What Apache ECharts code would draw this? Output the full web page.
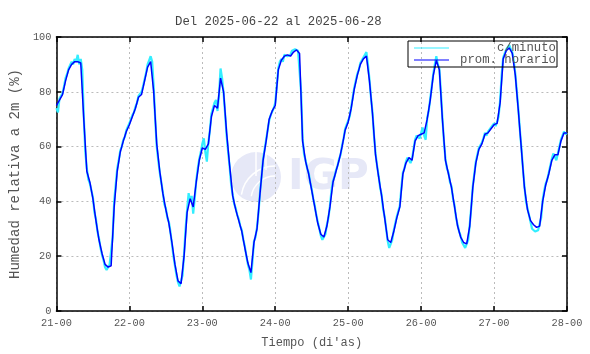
<!DOCTYPE html>
<html>
<head>
  <meta charset="utf-8">
  <title>humedad</title>
  <script src="https://cdn.jsdelivr.net/npm/echarts@6/dist/echarts.min.js"></script>
</head>
<body style="margin:0">
  <div id="main" style="width:590px;height:354px;"></div>
  <script type="text/javascript">
    // etiquetas del eje x (dia-hora)
    var xLabels = ['21-00', '22-00', '23-00', '24-00', '25-00', '26-00', '27-00', '28-00']

    // promedio horario, un valor por hora
    var prom21 = [75, 77, 79, 84, 88, 90, 91, 91, 90.5, 70, 51, 47, 41, 33, 26, 21, 17, 16, 16.5, 38, 51, 58, 62, 65.5]
    var prom22 = [68, 71, 74, 78, 79, 84, 89, 91, 80, 61, 51, 43, 37, 32, 25, 17, 11, 10, 20, 36, 41, 38, 47, 55]
    var prom23 = [59.5, 59, 61, 71, 75, 74, 85, 80, 65, 53, 42, 37, 33, 29, 23, 17.5, 14, 25, 30, 43, 55, 62, 70, 73]
    var prom24 = [75, 88, 91.5, 93, 93.5, 93, 94.5, 95.3, 94, 62, 54.5, 50, 44, 38, 32, 28, 27, 31, 38, 47, 51, 55, 60, 66]
    var prom25 = [69, 74, 81, 86, 90, 92, 93, 84, 72, 57, 49, 42, 34, 26, 25, 29, 34, 38, 50, 54, 56, 55, 62, 64]
    var prom26 = [64.5, 65, 70, 77, 86, 91.5, 88, 70, 55, 50, 45, 38, 31, 27, 25, 24.5, 31, 45, 54, 59, 61, 64.5, 65, 66.5]
    var prom27 = [68, 68.5, 76, 92, 95, 96, 94, 86, 73, 59, 45, 37, 33, 31.5, 30.5, 31, 40, 46, 50, 55, 57, 57, 62, 65]
    var promFin = 65

    // datos c/minuto, muestreados cada media hora
    var min21 = [74, 72.5, 77.5, 78, 79.5, 82, 85, 86.5, 88.5, 89, 91, 90, 92, 91, 93.5, 90, 92, 88, 71, 58, 52, 48, 46.5, 44,
      41.5, 36, 33.5, 29, 26.5, 23, 20.5, 18.5, 16, 15, 15.5, 17, 17.5, 27, 40, 46, 52, 55, 58.5, 60, 62.5, 63.5, 66, 66.5]
    var min22 = [68.5, 70, 71.5, 72.5, 74.5, 76, 78.5, 78, 80, 82, 84.5, 87, 90, 91.5, 93, 91, 82, 70, 60, 55, 50.5, 47, 43.5, 39,
      37.5, 34, 32.5, 29, 24.5, 20, 16.5, 13, 10.5, 9, 9.5, 13, 21, 30, 37, 43, 40, 42, 35.5, 41, 47.5, 52, 55.5, 58]
    var min23 = [61, 63, 58, 54.5, 61.5, 66, 72, 74, 76, 77, 73, 79, 88.5, 85, 79.5, 72, 64, 58, 52.5, 46, 42.5, 39, 37.5, 35,
      33.5, 31, 29.5, 26, 23.5, 20, 17, 15, 11.5, 18, 25.5, 27, 30.5, 36, 43.5, 49, 55.5, 59, 62.5, 66, 69.5, 71.5, 72, 74]
    var min24 = [76, 82, 88.5, 91, 92, 91, 93.5, 94, 93, 92.5, 93.5, 95, 95, 95.5, 96, 95, 94.5, 80, 63, 57, 55, 52, 50.5, 47,
      44.5, 41, 38.5, 35, 32.5, 30, 27.5, 26, 25.5, 28, 31.5, 34, 38.5, 44, 47.5, 49, 51.5, 53, 55.5, 57, 60.5, 63, 66.5, 68]
    var min25 = [69.5, 71, 74.5, 78, 81.5, 84, 86.5, 88, 90.5, 91.5, 92.5, 93, 94.5, 90, 84.5, 78, 72.5, 64, 57.5, 53, 49.5, 45, 42.5, 37,
      34.5, 30, 25.5, 23, 24.5, 26, 29.5, 32, 34.5, 35, 38.5, 45, 50.5, 52, 54.5, 56, 56.5, 54, 55.5, 59, 62.5, 64, 64.5, 63]
    var min26 = [65, 67, 64, 62.5, 70.5, 73, 77.5, 82, 86.5, 90, 93, 90, 88.5, 80, 70.5, 62, 55.5, 52, 50.5, 47, 45.5, 41, 38.5, 34,
      31.5, 29, 27.5, 25, 24, 23, 22.5, 26, 31.5, 38, 45.5, 50, 54.5, 57, 59.5, 60, 61.5, 63, 65, 64, 65.5, 66, 67, 67.5]
    var min27 = [68.5, 67.5, 69, 71, 77, 86, 92.5, 94, 95.5, 96, 97, 95.5, 94.5, 91, 86.5, 80, 73.5, 66, 59.5, 52, 45.5, 40, 37.5, 35,
      32.5, 30, 30.5, 29, 28.5, 29.5, 30, 34, 40.5, 44, 46.5, 48, 50.5, 53, 55.5, 57.5, 57, 55, 57.5, 60, 62.5, 64, 65.5, 64.5]
    var minFin = 65

    var promDias = [prom21, prom22, prom23, prom24, prom25, prom26, prom27]
    var minDias = [min21, min22, min23, min24, min25, min26, min27]

    // armar pares [hora, valor]
    var promData = []
    for (var d = 0; d < promDias.length; d++) {
      for (var h = 0; h < promDias[d].length; h++) {
        promData.push([d * 24 + h, promDias[d][h]])
      }
    }
    promData.push([168, promFin])

    var minData = []
    for (var d = 0; d < minDias.length; d++) {
      for (var k = 0; k < minDias[d].length; k++) {
        minData.push([d * 24 + k * 0.5, minDias[d][k]])
      }
    }
    minData.push([168, minFin])

    var fuente = 'Liberation Mono'
    var gris = '#555'
    var marco = { onZero: false, lineStyle: { color: '#000', width: 1.5 } }
    var tick = { show: true, inside: true, length: 5, lineStyle: { color: '#000', width: 1.5 } }

    var myChart = echarts.init(document.getElementById('main'))

    var option = {
      animation: false,
      title: {
        text: 'Del 2025-06-22 al 2025-06-28',
        left: 170,
        top: 11,
        textStyle: { fontFamily: fuente, fontSize: 12.3, fontWeight: 'normal', color: '#444' }
      },
      legend: {
        orient: 'vertical',
        left: 408,
        top: 41,
        padding: [1, 1, 1, 6],
        itemGap: 0,
        itemWidth: 35,
        itemHeight: 12,
        borderColor: '#000',
        borderWidth: 1,
        icon: 'path://M0,5.5 L35,5.5 L35,6.5 L0,6.5 Z',
        data: ['c/minuto', 'prom. horario'],
        formatter: function (name) { return '{t|' + name + '}' },
        textStyle: {
          rich: {
            t: { fontFamily: fuente, fontSize: 12.3, color: gris, width: 102, align: 'right', lineHeight: 12 }
          }
        }
      },
      grid: { left: 49, right: 23, top: 37, bottom: 40 },
      // logo de fondo
      graphic: [{
        type: 'group',
        z: -10,
        silent: true,
        children: [
          { type: 'circle', shape: { cx: 256, cy: 177, r: 25 }, style: { fill: '#e6e8f7' } },
          { type: 'arc', shape: { cx: 275, cy: 200, r: 34, startAngle: Math.PI * 1.05, endAngle: Math.PI * 1.5 }, style: { stroke: '#fff', lineWidth: 1.5, fill: null } },
          { type: 'arc', shape: { cx: 275, cy: 200, r: 24, startAngle: Math.PI * 1.05, endAngle: Math.PI * 1.5 }, style: { stroke: '#fff', lineWidth: 1.5, fill: null } },
          { type: 'line', shape: { x1: 256, y1: 152, x2: 256, y2: 176 }, style: { stroke: '#fff', lineWidth: 1.5 } },
          { type: 'line', shape: { x1: 266, y1: 154, x2: 266, y2: 170 }, style: { stroke: '#fff', lineWidth: 1.5 } },
          {
            type: 'text',
            style: {
              text: 'IGP', x: 288, y: 178, fill: '#e6e8f7',
              fontFamily: 'DejaVu Sans', fontWeight: 'bold', fontSize: 42, verticalAlign: 'middle'
            }
          }
        ]
      }],
      xAxis: [{
        type: 'value',
        min: 0,
        max: 168,
        interval: 24,
        name: "Tiempo (di'as)",
        nameLocation: 'middle',
        nameGap: 26,
        nameTextStyle: { fontFamily: fuente, fontSize: 12, color: gris },
        axisLine: marco,
        axisTick: tick,
        axisLabel: {
          fontFamily: fuente, fontSize: 10.3, color: gris, margin: 7,
          formatter: function (v) { return xLabels[Math.round(v / 24)] }
        },
        splitLine: { lineStyle: { color: '#bbb', type: [2, 3] } }
      }, {
        type: 'value',
        position: 'top',
        min: 0,
        max: 168,
        interval: 24,
        axisLine: marco,
        axisTick: tick,
        axisLabel: { show: false },
        splitLine: { show: false }
      }],
      yAxis: [{
        type: 'value',
        min: 0,
        max: 100,
        interval: 20,
        name: 'Humedad relativa a 2m (%)',
        nameLocation: 'middle',
        nameGap: 30,
        nameTextStyle: { fontFamily: fuente, fontSize: 14, color: gris },
        axisLine: { show: true, onZero: false, lineStyle: { color: '#000', width: 1.5 } },
        axisTick: tick,
        axisLabel: { fontFamily: fuente, fontSize: 10.3, color: gris, margin: 5 },
        splitLine: { lineStyle: { color: '#bbb', type: [2, 3] } }
      }, {
        type: 'value',
        position: 'right',
        min: 0,
        max: 100,
        interval: 20,
        axisLine: { show: true, onZero: false, lineStyle: { color: '#000', width: 1.5 } },
        axisTick: tick,
        axisLabel: { show: false },
        splitLine: { show: false }
      }],
      series: [{
        name: 'c/minuto',
        type: 'line',
        data: minData,
        showSymbol: false,
        color: '#33eeff',
        lineStyle: { width: 2.2, color: '#33eeff' }
      }, {
        name: 'prom. horario',
        type: 'line',
        data: promData,
        showSymbol: false,
        color: '#0000ff',
        lineStyle: { width: 1.5, color: '#0000ff' }
      }]
    }

    myChart.setOption(option)
  </script>
</body>
</html>
